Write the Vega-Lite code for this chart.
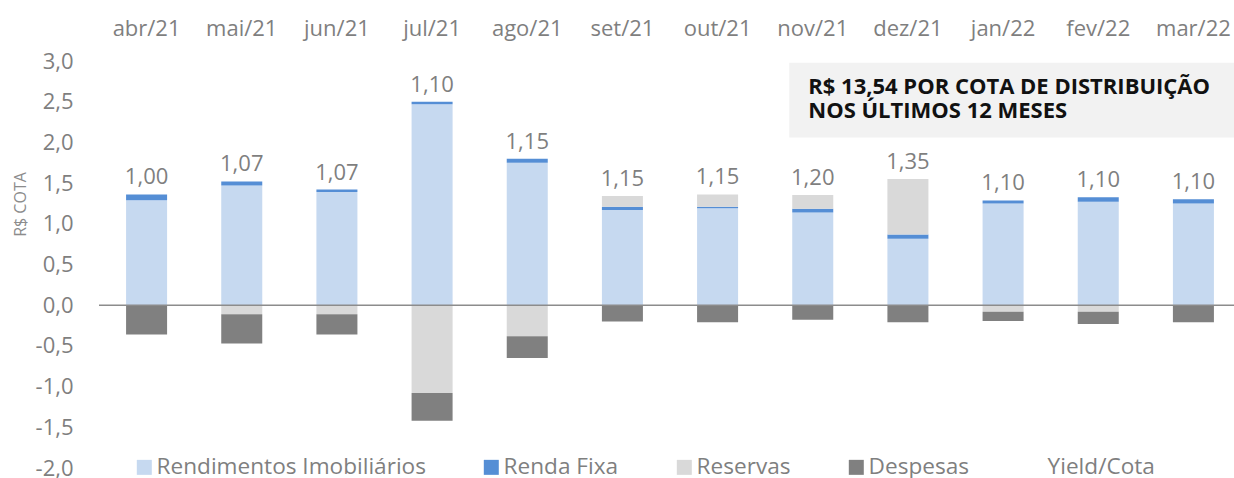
{
  "$schema": "https://vega.github.io/schema/vega-lite/v6.json",
  "width": 1142,
  "height": 407,
  "autosize": {"type": "none"},
  "padding": {"left": 99, "top": 61, "right": 0, "bottom": 10},
  "background": "white",
  "config": {
    "view": {"stroke": null},
    "font": "Open Sans",
    "locale": {"number": {"decimal": ",", "thousands": ".", "grouping": [3], "currency": ["R$ ", ""], "minus": "-"}}
  },
  "datasets": {
    "comp": [
      {"month": "abr/21", "comp": "Rendimentos Imobiliários", "value": 1.29},
      {"month": "abr/21", "comp": "Renda Fixa", "value": 0.07},
      {"month": "abr/21", "comp": "Reservas", "value": 0},
      {"month": "abr/21", "comp": "Despesas", "value": -0.36},
      {"month": "mai/21", "comp": "Rendimentos Imobiliários", "value": 1.47},
      {"month": "mai/21", "comp": "Renda Fixa", "value": 0.05},
      {"month": "mai/21", "comp": "Reservas", "value": -0.11},
      {"month": "mai/21", "comp": "Despesas", "value": -0.36},
      {"month": "jun/21", "comp": "Rendimentos Imobiliários", "value": 1.39},
      {"month": "jun/21", "comp": "Renda Fixa", "value": 0.03},
      {"month": "jun/21", "comp": "Reservas", "value": -0.11},
      {"month": "jun/21", "comp": "Despesas", "value": -0.25},
      {"month": "jul/21", "comp": "Rendimentos Imobiliários", "value": 2.47},
      {"month": "jul/21", "comp": "Renda Fixa", "value": 0.03},
      {"month": "jul/21", "comp": "Reservas", "value": -1.08},
      {"month": "jul/21", "comp": "Despesas", "value": -0.34},
      {"month": "ago/21", "comp": "Rendimentos Imobiliários", "value": 1.75},
      {"month": "ago/21", "comp": "Renda Fixa", "value": 0.05},
      {"month": "ago/21", "comp": "Reservas", "value": -0.38},
      {"month": "ago/21", "comp": "Despesas", "value": -0.27},
      {"month": "set/21", "comp": "Rendimentos Imobiliários", "value": 1.17},
      {"month": "set/21", "comp": "Renda Fixa", "value": 0.04},
      {"month": "set/21", "comp": "Reservas", "value": 0.13},
      {"month": "set/21", "comp": "Despesas", "value": -0.2},
      {"month": "out/21", "comp": "Rendimentos Imobiliários", "value": 1.19},
      {"month": "out/21", "comp": "Renda Fixa", "value": 0.02},
      {"month": "out/21", "comp": "Reservas", "value": 0.15},
      {"month": "out/21", "comp": "Despesas", "value": -0.21},
      {"month": "nov/21", "comp": "Rendimentos Imobiliários", "value": 1.14},
      {"month": "nov/21", "comp": "Renda Fixa", "value": 0.045},
      {"month": "nov/21", "comp": "Reservas", "value": 0.17},
      {"month": "nov/21", "comp": "Despesas", "value": -0.18},
      {"month": "dez/21", "comp": "Rendimentos Imobiliários", "value": 0.815},
      {"month": "dez/21", "comp": "Renda Fixa", "value": 0.055},
      {"month": "dez/21", "comp": "Reservas", "value": 0.68},
      {"month": "dez/21", "comp": "Despesas", "value": -0.21},
      {"month": "jan/22", "comp": "Rendimentos Imobiliários", "value": 1.25},
      {"month": "jan/22", "comp": "Renda Fixa", "value": 0.037},
      {"month": "jan/22", "comp": "Reservas", "value": -0.08},
      {"month": "jan/22", "comp": "Despesas", "value": -0.115},
      {"month": "fev/22", "comp": "Rendimentos Imobiliários", "value": 1.27},
      {"month": "fev/22", "comp": "Renda Fixa", "value": 0.055},
      {"month": "fev/22", "comp": "Reservas", "value": -0.08},
      {"month": "fev/22", "comp": "Despesas", "value": -0.15},
      {"month": "mar/22", "comp": "Rendimentos Imobiliários", "value": 1.25},
      {"month": "mar/22", "comp": "Renda Fixa", "value": 0.053},
      {"month": "mar/22", "comp": "Reservas", "value": 0},
      {"month": "mar/22", "comp": "Despesas", "value": -0.21}
    ],
    "rank": [
      {"comp": "Rendimentos Imobiliários", "rank": 1},
      {"comp": "Renda Fixa", "rank": 2},
      {"comp": "Reservas", "rank": 3},
      {"comp": "Despesas", "rank": 4}
    ],
    "yield": [
      {"month": "abr/21", "yield": 1.0},
      {"month": "mai/21", "yield": 1.07},
      {"month": "jun/21", "yield": 1.07},
      {"month": "jul/21", "yield": 1.1},
      {"month": "ago/21", "yield": 1.15},
      {"month": "set/21", "yield": 1.15},
      {"month": "out/21", "yield": 1.15},
      {"month": "nov/21", "yield": 1.2},
      {"month": "dez/21", "yield": 1.35},
      {"month": "jan/22", "yield": 1.1},
      {"month": "fev/22", "yield": 1.1},
      {"month": "mar/22", "yield": 1.1}
    ],
    "note": [
      {"x": "nov/21", "x2": "mar/22", "y": 2.98, "y2": 2.06, "ty": 2.6}
    ]
  },
  "layer": [
    {
      "data": {"name": "note"},
      "mark": {"type": "rect", "color": "#F2F2F2", "xOffset": -3},
      "encoding": {
        "x": {"field": "x", "type": "nominal", "bandPosition": 0},
        "x2": {"field": "x2", "bandPosition": 1.5},
        "y": {"field": "y", "type": "quantitative"},
        "y2": {"field": "y2"}
      }
    },
    {
      "data": {"name": "comp"},
      "transform": [
        {"lookup": "comp", "from": {"data": {"name": "rank"}, "key": "comp", "fields": ["rank"]}}
      ],
      "mark": {"type": "bar"},
      "encoding": {
        "x": {
          "field": "month", "type": "nominal",
          "sort": ["abr/21","mai/21","jun/21","jul/21","ago/21","set/21","out/21","nov/21","dez/21","jan/22","fev/22","mar/22"],
          "scale": {"domain": ["abr/21","mai/21","jun/21","jul/21","ago/21","set/21","out/21","nov/21","dez/21","jan/22","fev/22","mar/22"], "paddingInner": 0.569, "paddingOuter": 0.2845},
          "axis": {"orient": "top", "title": null, "bandPosition": 0.5, "domain": false, "ticks": false, "tickSize": 0, "grid": false, "labelAngle": 0, "labelAlign": "center", "labelFontSize": 22, "labelColor": "#7f7f7f", "labelFont": "Open Sans", "labelPadding": 26, "labelBaseline": "alphabetic"}
        },
        "y": {
          "field": "value", "type": "quantitative", "stack": "zero",
          "scale": {"domain": [-2, 3], "nice": false, "zero": false},
          "axis": {"title": "R$ COTA", "values": [-2,-1.5,-1,-0.5,0,0.5,1,1.5,2,2.5,3], "format": ".1f", "domain": false, "ticks": false, "tickSize": 0, "grid": false, "labelFontSize": 22, "labelColor": "#7f7f7f", "labelFont": "Open Sans", "labelPadding": 26, "labelFlush": false, "labelOverlap": false, "labelBound": false, "titleFontSize": 16, "titleFontWeight": "normal", "titleColor": "#8c8c8c", "titleFont": "Open Sans", "titleX": -74, "titleY": 143, "titleAngle": -90, "titleBaseline": "alphabetic", "titleAlign": "center"}
        },
        "order": {"field": "rank", "type": "quantitative", "sort": "ascending"},
        "color": {
          "field": "comp", "type": "nominal",
          "sort": ["Rendimentos Imobiliários","Renda Fixa","Reservas","Despesas","Yield/Cota"],
          "scale": {"domain": ["Rendimentos Imobiliários","Renda Fixa","Reservas","Despesas","Yield/Cota"], "range": ["#C6D9F0","#558ED5","#D9D9D9","#808080","rgba(0,0,0,0)"]},
          "legend": {"orient": "none", "legendX": 34, "legendY": 395, "direction": "horizontal", "title": null, "symbolType": "square", "symbolSize": 225, "symbolStrokeWidth": 0, "symbolOpacity": 1, "labelFontSize": 22.6, "labelColor": "#7f7f7f", "labelFont": "Open Sans", "labelOffset": 1, "columnPadding": 54, "labelLimit": 400, "padding": 0}
        }
      }
    },
    {
      "data": {"values": [{}]},
      "mark": {"type": "rule", "color": "#8c8c8c", "strokeWidth": 1.5},
      "encoding": {"y": {"datum": 0}}
    },
    {
      "data": {"name": "comp"},
      "transform": [
        {"filter": "datum.value > 0"},
        {"aggregate": [{"op": "sum", "field": "value", "as": "top"}], "groupby": ["month"]},
        {"lookup": "month", "from": {"data": {"name": "yield"}, "key": "month", "fields": ["yield"]}}
      ],
      "mark": {"type": "text", "fontSize": 22, "color": "#7f7f7f", "font": "Open Sans", "baseline": "alphabetic", "dy": -10},
      "encoding": {
        "x": {"field": "month", "type": "nominal"},
        "y": {"field": "top", "type": "quantitative"},
        "text": {"field": "yield", "type": "quantitative", "format": ".2f"}
      }
    },
    {
      "data": {"name": "note"},
      "mark": {"type": "text", "text": ["R$ 13,54 POR COTA DE DISTRIBUIÇÃO", "NOS ÚLTIMOS 12 MESES"], "lineHeight": 24.4, "align": "left", "baseline": "alphabetic", "fontWeight": "bold", "fontSize": 22, "font": "Open Sans", "color": "#111111", "dx": 16},
      "encoding": {
        "x": {"field": "x", "type": "nominal", "bandPosition": 0},
        "y": {"field": "ty", "type": "quantitative"}
      }
    }
  ]
}
